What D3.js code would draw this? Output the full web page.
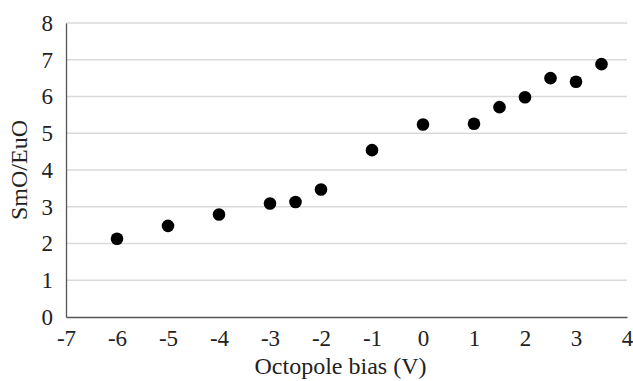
<!DOCTYPE html>
<html>
<head>
<meta charset="utf-8">
<script src="https://cdn.jsdelivr.net/npm/d3@7"></script>
<style>
  body { margin: 0; background: #fff; }
  svg text { font-family: "Liberation Serif", "DejaVu Serif", "Times New Roman", serif; fill: #222; }
</style>
</head>
<body>
<div id="chart"></div>
<script>
// data
const biasV = [-6, -5, -4, -3, -2.5, -2, -1, 0, 1, 1.5, 2, 2.5, 3, 3.5];
const ratio = [2.13, 2.48, 2.79, 3.09, 3.13, 3.47, 4.54, 5.24, 5.26, 5.71, 5.98, 6.50, 6.40, 6.88];
const xTicks = [-7, -6, -5, -4, -3, -2, -1, 0, 1, 2, 3, 4];
const yTicks = [0, 1, 2, 3, 4, 5, 6, 7, 8];

const w = 633, h = 381;
const margin = { top: 23, right: 6, bottom: 64, left: 66 };

const svg = d3.select("#chart").append("svg")
    .attr("width", w)
    .attr("height", h);

const x = d3.scaleLinear()
    .domain([-7, 4])
    .range([margin.left, w - margin.right]);

const y = d3.scaleLinear()
    .domain([0, 8])
    .range([h - margin.bottom, margin.top]);

// gridlines
svg.append("g")
    .selectAll("line")
    .data(yTicks.filter(d => d > 0))
    .enter().append("line")
    .attr("x1", x(-7)).attr("x2", x(4))
    .attr("y1", d => y(d)).attr("y2", d => y(d))
    .style("stroke", "#d9d9d9")
    .style("stroke-width", 1.3);

// AXES
const xAxis = svg.append("g")
    .attr("transform", "translate(0," + y(0) + ")")
    .call(d3.axisBottom(x).tickValues(xTicks).tickSize(0).tickPadding(13).tickFormat(d3.format("d")));

const yAxis = svg.append("g")
    .attr("transform", "translate(" + x(-7) + ",0)")
    .call(d3.axisLeft(y).tickValues(yTicks).tickSize(0).tickPadding(13));

[xAxis, yAxis].forEach(a => {
    a.attr("font-family", null).attr("font-size", null);
    a.select(".domain").style("stroke", "#555").style("stroke-width", 1.3);
    a.selectAll("text").style("font-size", "23px").style("fill", "#222");
});
xAxis.selectAll("text").text(d => d < 0 ? "-" + Math.abs(d) : d);

// AXES LABELS
svg.append("text")
    .text("Octopole bias (V)")
    .style("text-anchor", "middle")
    .style("font-size", "24px")
    .attr("x", (x(-7) + x(4)) / 2 - 6)
    .attr("y", 374);

svg.append("text")
    .text("SmO/EuO")
    .style("text-anchor", "middle")
    .style("font-size", "24px")
    .attr("transform", "translate(27," + y(4) + ") rotate(-90)");

// points
svg.append("g")
    .selectAll("circle")
    .data(biasV)
    .enter().append("circle")
    .attr("cx", d => x(d))
    .attr("cy", (d, i) => y(ratio[i]))
    .attr("r", 6.3)
    .style("fill", "#000");
</script>
</body>
</html>
